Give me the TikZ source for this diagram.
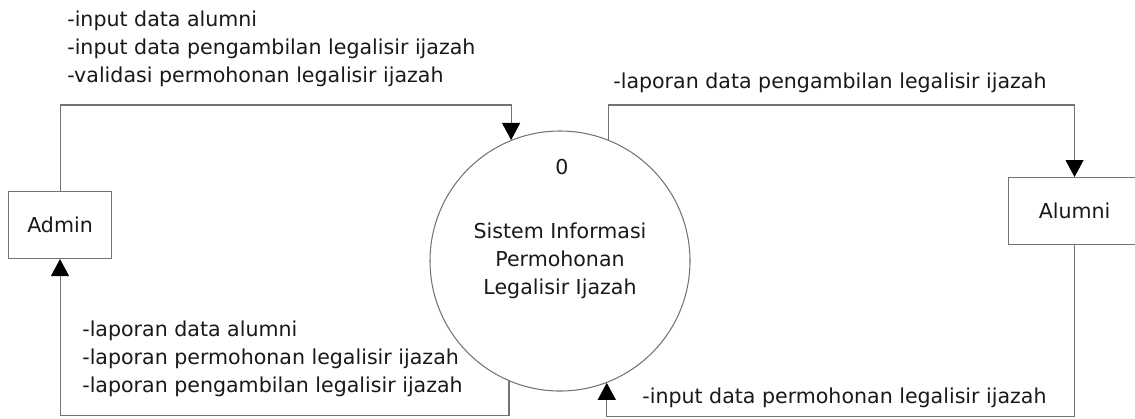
\documentclass[tikz,border=0pt]{standalone}
\usepackage{fontspec}
\setmainfont{DejaVu Sans}
\usetikzlibrary{arrows.meta}

\begin{document}
\begin{tikzpicture}[
  font=\fontsize{11.7}{15.9}\selectfont,
  entity/.style={rectangle, draw=black!55, line width=0.6pt, minimum height=13.4mm, anchor=north west, text=black!90},
  flow/.style={draw=black!55, line width=0.6pt, -{Triangle[length=3.4mm,width=3.6mm,black]}},
  flowtext/.style={align=left, anchor=base west, inner sep=0pt, text=black!90}
]
\useasboundingbox (0,0) rectangle (22.7,-8.36);

\node (admin) [entity, minimum width=20.6mm] at (0.16,-3.82) {Admin};
\node (alumni) [entity, minimum width=26.4mm] at (20.16,-3.54) {Alumni};

\node (proc) [circle, draw=black!55, line width=0.6pt, minimum size=52mm, align=center, text=black!90] at (11.2,-5.22) {Sistem Informasi\\Permohonan\\Legalisir Ijazah};
\node (procno) [text=black!90] at (11.24,-3.34) {0};

% base west of a multi-line node sits on its last line
\draw [flow] (admin.north) -- ++(0,1.72) -| (proc.112.6);
\node (inAdmin) [flowtext] at (1.34,-1.64) {-input data alumni\\-input data pengambilan legalisir ijazah\\-validasi permohonan legalisir ijazah};

\draw [flow] (proc.247.4) -- ++(0,-0.68) -| (admin.south);
\node (outAdmin) [flowtext] at (1.64,-7.84) {-laporan data alumni\\-laporan permohonan legalisir ijazah\\-laporan pengambilan legalisir ijazah};

\draw [flow] (proc.68.3) -- ++(0,0.70) -| (alumni.north);
\node (outAlumni) [flowtext] at (12.26,-1.76) {-laporan data pengambilan legalisir ijazah};

\draw [flow] (alumni.south) -- ++(0,-3.42) -| (proc.291.7);
\node (inAlumni) [flowtext] at (12.84,-8.06) {-input data permohonan legalisir ijazah};
\end{tikzpicture}
\end{document}
